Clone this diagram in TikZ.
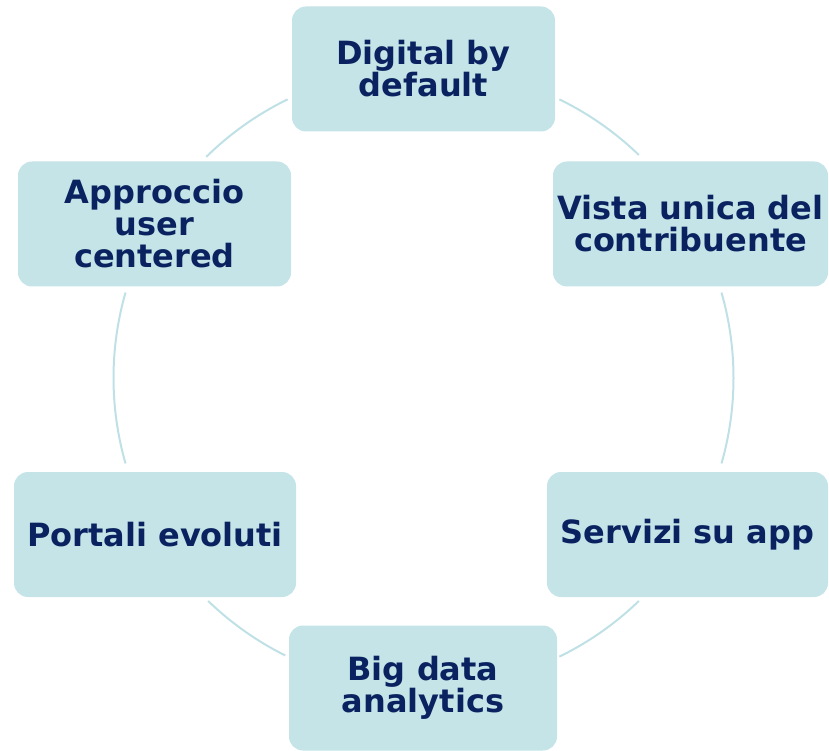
\documentclass[tikz,border=0pt]{standalone}
\usepackage{fontspec}
\setmainfont{DejaVu Sans}
\usepackage{tikz}
\definecolor{boxfill}{HTML}{C4E4E8}
\definecolor{ringline}{HTML}{BFE1E6}
\definecolor{navy}{HTML}{0A2260}

\begin{document}
\begin{tikzpicture}[x = .5pt, y = .5pt,
  cyclebox/.style = {fill = boxfill, rounded corners = 7pt, inner sep = 0, minimum height = 62.5pt,
    align = center, text = navy, font = \fontsize{16}{16}\selectfont\bfseries},
  ring/.style = {ringline, line width = 1pt}]
  \useasboundingbox (0, 0) rectangle (829, 750);
  \coordinate (c) at (423.5, 372);
  \node[cyclebox, minimum width = 131.5pt] (digital) at (423.5, 681) {Digital by\\default};
  \node[cyclebox, minimum width = 137.5pt] (vista) at (690.5, 526) {Vista unica del\\contribuente};
  \node[cyclebox, minimum width = 140.5pt] (servizi) at (687.5, 215.5) {Servizi su app};
  \node[cyclebox, minimum width = 134pt] (bigdata) at (423, 62) {Big data\\analytics};
  \node[cyclebox, minimum width = 141pt] (portali) at (155, 215.5) {Portali evoluti};
  \node[cyclebox, minimum width = 136.5pt] (approccio) at (154.5, 526) {Approccio\\user\\centered};
  \foreach \a/\b in {64/46, 16/-16, -46/-64, -116.5/-134, 196/164, 134.5/116}
    \draw[ring] (c) ++(\a:310) arc[start angle = \a, end angle = \b, radius = 310];
\end{tikzpicture}
\end{document}
